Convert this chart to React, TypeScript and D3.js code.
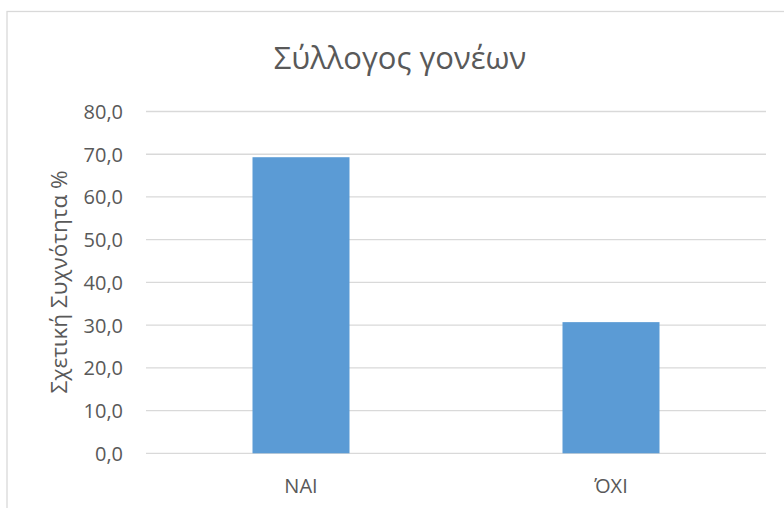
import React from "react";
import * as d3 from "d3";

const title = "Σύλλογος γονέων";
const yAxisTitle = "Σχετική Συχνότητα %";
const categories = ["ΝΑΙ", "ΌΧΙ"];
const values = [69.3, 30.7];
const yTicks = [0, 10, 20, 30, 40, 50, 60, 70, 80];

const W = 784;
const H = 508;
const FONT = "'Open Sans', 'Noto Sans', sans-serif";
const TEXT = "#595959";
const GRID = "#D9D9D9";
const BAR = "#5B9BD5";

export default function App() {
  const y = d3.scaleLinear().domain([0, 80]).range([453.3, 111.5]);
  const p = 1 - 97 / 310;
  const x = d3
    .scaleBand<string>()
    .domain(categories)
    .range([146, 766])
    .paddingInner(p)
    .paddingOuter(p / 2);
  const fmt = (v: number) => v.toFixed(1).replace(".", ",");

  return (
    <svg
      width={W}
      height={H}
      style={{ position: "absolute", left: 0, top: 0, background: "#fff" }}
      fontFamily={FONT}
    >
      <rect x={7} y={11.5} width={W + 20} height={H + 20} fill="#fff" stroke={GRID} strokeWidth={1.3} />
      <text x={400} y={57} textAnchor="middle" dominantBaseline="central" fontSize={31} fill={TEXT}>
        {title}
      </text>
      {yTicks.map((t) => (
        <g key={t}>
          <line x1={146} x2={766} y1={y(t)} y2={y(t)} stroke={GRID} strokeWidth={1.3} />
          <text x={123} y={y(t)} textAnchor="end" dominantBaseline="central" fontSize={20} fill={TEXT}>
            {fmt(t)}
          </text>
        </g>
      ))}
      {categories.map((c, i) => (
        <g key={c}>
          <rect x={x(c)} y={y(values[i])} width={x.bandwidth()} height={y(0) - y(values[i])} fill={BAR} />
          <text
            x={(x(c) as number) + x.bandwidth() / 2}
            y={485}
            textAnchor="middle"
            dominantBaseline="central"
            fontSize={20}
            fill={TEXT}
          >
            {c}
          </text>
        </g>
      ))}
      <text
        transform={`translate(58, 282) rotate(-90)`}
        textAnchor="middle"
        dominantBaseline="central"
        fontSize={22.5}
        fill={TEXT}
      >
        {yAxisTitle}
      </text>
    </svg>
  );
}
